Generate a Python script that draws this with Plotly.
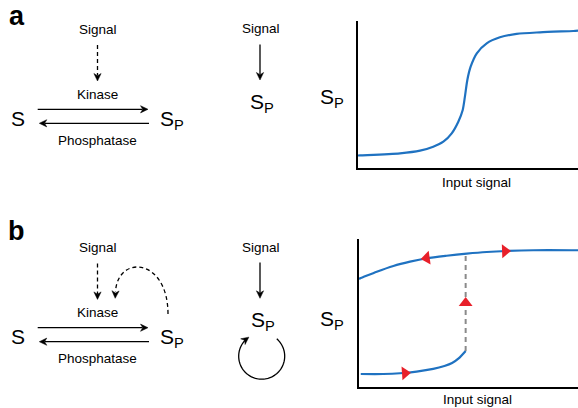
import numpy as np
import plotly.graph_objects as go

# ---------------- data ----------------
# Panel a: graded (ultrasensitive) response, S_P vs input signal (0-100 units)
a_signal = [0, 1.0, 19.1, 28.2, 34.2, 38.8, 42.6, 45.6, 47.6, 48.6, 49.7, 51.2, 54.0,
            58.5, 64.5, 72.1, 82.7, 97.9, 100]
a_sp = [8.5, 8.6, 10.0, 11.8, 14.5, 17.9, 23.6, 31.5, 39.5, 48.5, 59.9, 68.9, 78.0,
        84.8, 88.9, 91.2, 92.3, 93.2, 93.4]

# Panel b: bistable response (hysteresis)
b_upper_signal = [0, 0.5, 8.1, 15.7, 23.3, 30.9, 40.0, 49.2, 58.3, 67.4, 79.6, 99.4, 100]
b_upper_sp = [73.2, 73.4, 77.9, 81.8, 84.7, 87.0, 88.7, 90.1, 91.2, 91.9, 92.4, 92.4, 92.4]
b_lower_signal = [0.8, 11.1, 18.7, 26.3, 33.9, 39.0, 42.5, 45.5, 48.7]
b_lower_sp = [8.8, 8.8, 9.3, 10.4, 12.2, 14.2, 16.2, 19.3, 24.3]
b_jump_signal = [48.7, 48.7]
b_jump_sp = [24.3, 89.6]
# red direction arrows: position and orientation (degrees clockwise from up)
b_arrow_signal = [21.0, 48.7, 30.9, 66.7]
b_arrow_sp = [9.4, 56.8, 87.1, 91.8]
b_arrow_angle = [86, 0, 262, 88]

# diagram text
LBL_SIGNAL = "Signal"
LBL_KINASE = "Kinase"
LBL_PHOS = "Phosphatase"
LBL_S = "S"
LBL_SP = "S<sub>P</sub>"
LBL_INPUT = "Input signal"

BLUE = "#1f72c1"
RED = "#e8202a"
FONT = "Liberation Sans, Arial, Helvetica, sans-serif"
W, H = 578, 408

fig = go.Figure()

# ---------------- response curves ----------------
curve = dict(color=BLUE, width=2.2, shape="spline", smoothing=0.8)
fig.add_trace(go.Scatter(x=a_signal, y=a_sp, mode="lines", xaxis="x2", yaxis="y2",
                         line=curve, hoverinfo="skip"))
fig.add_trace(go.Scatter(x=b_upper_signal, y=b_upper_sp, mode="lines", xaxis="x3", yaxis="y3",
                         line=curve, hoverinfo="skip"))
fig.add_trace(go.Scatter(x=b_lower_signal, y=b_lower_sp, mode="lines", xaxis="x3", yaxis="y3",
                         line=curve, hoverinfo="skip"))
fig.add_trace(go.Scatter(x=b_jump_signal, y=b_jump_sp, mode="lines", xaxis="x3", yaxis="y3",
                         line=dict(color="#8a8a8a", width=2, dash="5px,4px"), hoverinfo="skip"))
fig.add_trace(go.Scatter(x=b_arrow_signal, y=b_arrow_sp, mode="markers", xaxis="x3", yaxis="y3",
                         marker=dict(symbol="triangle-up", size=12, color=RED, angle=b_arrow_angle,
                                     line=dict(width=0)), hoverinfo="skip"))

# ---------------- diagram helpers (pixel space on hidden axis) ----------------
shapes = []
annotations = []


def line(x0, y0, x1, y1, dash=None, width=1.3):
    shapes.append(dict(type="line", xref="x", yref="y", x0=x0, y0=y0, x1=x1, y1=y1,
                       line=dict(color="black", width=width, dash=dash or "solid"), layer="above"))


def head(tx, ty, dx, dy, length=7.5, half=3.6, color="black"):
    n = np.hypot(dx, dy)
    ux, uy = dx / n, dy / n
    px, py = -uy, ux
    bx, by = tx - ux * length, ty - uy * length
    nx, ny = tx - ux * length * 0.7, ty - uy * length * 0.7
    pts = [(tx, ty), (bx + px * half, by + py * half), (nx, ny), (bx - px * half, by - py * half)]
    path = "M " + " L ".join(f"{x:.2f},{y:.2f}" for x, y in pts) + " Z"
    shapes.append(dict(type="path", xref="x", yref="y", path=path, fillcolor=color,
                       line=dict(color=color, width=0.5), layer="above"))


def arrow(x0, y0, tx, ty, dash=None):
    dx, dy = tx - x0, ty - y0
    n = np.hypot(dx, dy)
    ex, ey = tx - dx / n * 5.5, ty - dy / n * 5.5
    line(x0, y0, ex, ey, dash=dash)
    head(tx, ty, dx, dy)


def text(x, y, s, size=13.5, bold=False, xanchor="center"):
    annotations.append(dict(xref="x", yref="y", x=x, y=y, text=f"<b>{s}</b>" if bold else s,
                            showarrow=False, xanchor=xanchor, yanchor="middle",
                            font=dict(family=FONT, size=size, color="black")))


# ---------------- panel a diagram ----------------
text(16.5, 16, "a", size=27, bold=True)
text(97.7, 29, LBL_SIGNAL)
arrow(97.5, 45, 97.5, 81, dash="4px,3px")
text(97.7, 94.3, LBL_KINASE)
text(17.7, 118.3, LBL_S, size=21)
arrow(37.7, 109.3, 148, 109.3)
arrow(149, 123.3, 39.3, 123.3)
text(171.7, 120, LBL_SP, size=21)
text(97.7, 140, LBL_PHOS)

text(261, 28.5, LBL_SIGNAL)
arrow(260, 44.5, 260, 80)
text(262, 103, LBL_SP, size=21)

# ---------------- panel b diagram ----------------
dy = 218.4
text(16.5, 231, "b", size=27, bold=True)
text(97.7, 29 + dy, LBL_SIGNAL)
arrow(97.5, 45 + dy, 97.5, 81 + dy, dash="4px,3px")
text(97.7, 94.3 + dy, LBL_KINASE)
text(17.7, 118.3 + dy, LBL_S, size=21)
arrow(37.7, 109.3 + dy, 148, 109.3 + dy)
arrow(149, 123.3 + dy, 39.3, 123.3 + dy)
text(171.7, 120 + dy, LBL_SP, size=21)
text(97.7, 140 + dy, LBL_PHOS)

# feedback dashed arc from S_P back to kinase
shapes.append(dict(type="path", xref="x", yref="y",
                   path="M 168,314 C 168,258 118,254 115.5,291.5",
                   line=dict(color="black", width=1.3, dash="4px,3px"), layer="above"))
head(115.2, 298.3, -0.3, 7)

text(261, 247.3, LBL_SIGNAL)
arrow(260, 262.5, 260, 298.3)
text(263, 321, LBL_SP, size=21)

# self-loop circle
cx, cy, r = 261.7, 356.2, 23
ang = np.radians(np.linspace(49, -229, 80))
xs = cx + r * np.cos(ang)
ys = cy - r * np.sin(ang)
shapes.append(dict(type="path", xref="x", yref="y",
                   path="M " + " L ".join(f"{x:.2f},{y:.2f}" for x, y in zip(xs, ys)),
                   line=dict(color="black", width=1.3), layer="above"))
tip_a = np.radians(-236)
tx, ty = cx + r * np.cos(tip_a), cy - r * np.sin(tip_a)
head(tx, ty, tx - xs[-1], ty - ys[-1])

# ---------------- plot labels ----------------
text(332, 98, LBL_SP, size=21)
text(476.5, 182, LBL_INPUT)
text(332, 319.5, LBL_SP, size=21)
text(477, 399, LBL_INPUT)

axis_hidden = dict(visible=False, showgrid=False, zeroline=False, fixedrange=True)
plot_ax = dict(showgrid=False, zeroline=False, showticklabels=False, ticks="",
               showline=True, linecolor="black", linewidth=1.6, range=[0, 100], fixedrange=True)

fig.update_layout(
    width=W, height=H, margin=dict(l=0, r=0, t=0, b=0),
    paper_bgcolor="white", plot_bgcolor="rgba(0,0,0,0)", showlegend=False,
    xaxis=dict(axis_hidden, range=[0, W], domain=[0, 1]),
    yaxis=dict(axis_hidden, range=[H, 0], domain=[0, 1]),
    xaxis2=dict(plot_ax, domain=[358 / W, 1], anchor="y2"),
    yaxis2=dict(plot_ax, domain=[1 - 168 / H, 1 - 21 / H], anchor="x2"),
    xaxis3=dict(plot_ax, domain=[359 / W, 1], anchor="y3"),
    yaxis3=dict(plot_ax, domain=[1 - 387 / H, 1 - 239 / H], anchor="x3"),
    shapes=shapes, annotations=annotations,
)

fig.write_html("out.html")
